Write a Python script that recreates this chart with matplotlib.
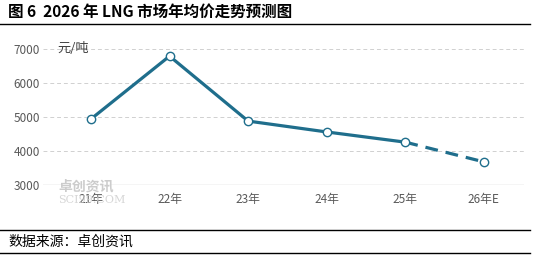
import matplotlib.pyplot as plt
from matplotlib.lines import Line2D

plt.rcParams['font.family'] = ['Noto Sans CJK SC', 'DejaVu Sans']

# Data
years = ['21年', '22年', '23年', '24年', '25年', '26年E']
prices = [4940, 6790, 4880, 4560, 4260, 3680]
y_ticks = [3000, 4000, 5000, 6000, 7000]

title = '图 6  2026 年 LNG 市场年均价走势预测图'
source = '数据来源：卓创资讯'
unit = '元/吨'

line_color = '#1f6e8c'
grey_text = '#595959'

fig = plt.figure(figsize=(5.36, 2.56), dpi=100, facecolor='white')
ax = fig.add_axes([43 / 536, 1 - 185 / 256, (524 - 43) / 536, (185 - 49) / 256])

x = list(range(len(years)))
# actual years solid, forecast dashed
ax.plot(x[:-1], prices[:-1], color=line_color, lw=2.3, zorder=3)
ax.plot(x[-2:], prices[-2:], color=line_color, lw=2.3, ls=(0, (4, 2.5)), zorder=3)
ax.plot(x, prices, ls='none', marker='o', ms=6, mfc='white', mec=line_color,
        mew=1.0, zorder=4)

ax.set_xlim(-0.61, 5.51)
ax.set_ylim(3000, 7000)
ax.set_yticks(y_ticks)
ax.set_xticks(x)
ax.set_xticklabels(years)
ax.tick_params(axis='both', length=0, labelsize=8.5, colors=grey_text)
ax.tick_params(axis='x', pad=6)
ax.tick_params(axis='y', pad=2)

for t in y_ticks[1:]:
    ax.axhline(t, color='#d0d0d0', lw=0.7, ls=(0, (4, 3)), zorder=1)
ax.axhline(3000, color='#d0d0d0', lw=1.0, zorder=1)

for s in ax.spines.values():
    s.set_visible(False)

ax.text(0.03, 7000, unit, transform=ax.get_yaxis_transform(), fontsize=9.5,
        color='#404040', va='center', ha='left')

# watermark
fig.text(58 / 536, 1 - 186 / 256, '卓创资讯', fontsize=10, color='#cccccc',
         va='center', ha='left', fontweight='bold', zorder=0)
fig.text(58 / 536, 1 - 200 / 256, 'SCI99.COM', fontsize=8, color='#d6d6d6',
         va='center', ha='left', family='DejaVu Serif', zorder=0)

# title and footer
fig.text(8 / 536, 1 - 12 / 256, title, fontsize=11.2, fontweight='bold',
         color='black', va='center', ha='left')
fig.add_artist(Line2D([0, 530 / 536], [1 - 24 / 256, 1 - 24 / 256],
                      color='black', lw=1.0, transform=fig.transFigure))
fig.add_artist(Line2D([0, 530 / 536], [1 - 230 / 256, 1 - 230 / 256],
                      color='black', lw=1.0, transform=fig.transFigure))
fig.add_artist(Line2D([0, 530 / 536], [1 - 253 / 256, 1 - 253 / 256],
                      color='black', lw=1.0, transform=fig.transFigure))
fig.text(8 / 536, 1 - 242 / 256, source, fontsize=10, color='black',
         va='center', ha='left')

fig.savefig('out.png', dpi=100, facecolor='white')
